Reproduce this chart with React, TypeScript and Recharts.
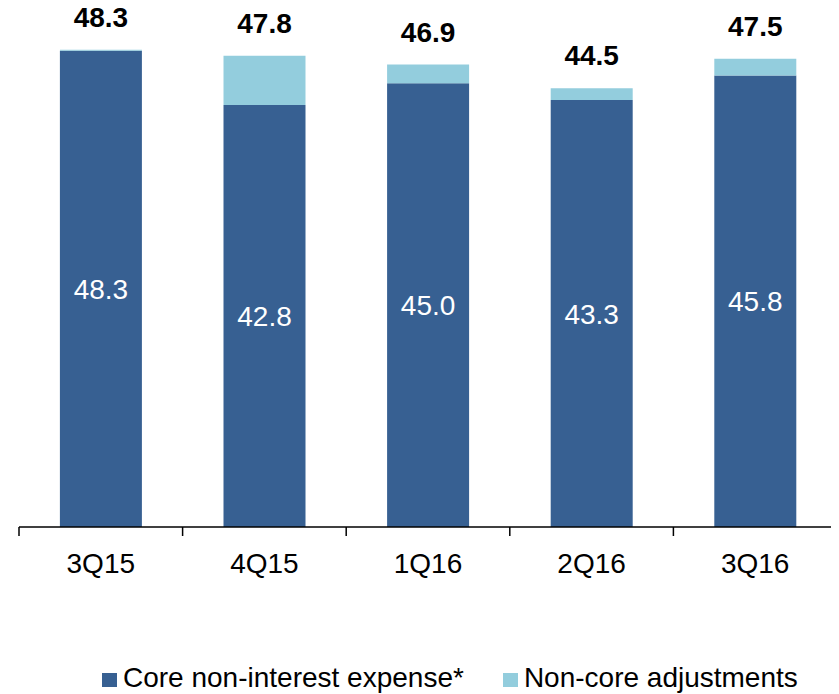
import React from "react"
import { BarChart, Bar, XAxis, YAxis, LabelList } from "recharts"

const quarters = ["3Q15", "4Q15", "1Q16", "2Q16", "3Q16"]
const coreExpense = [48.3, 42.8, 45.0, 43.3, 45.8]
const nonCoreAdjustments = [0.1, 5.0, 1.9, 1.2, 1.7]
const totals = [48.3, 47.8, 46.9, 44.5, 47.5]

const data = quarters.map((q, i) => ({
  quarter: q,
  core: coreExpense[i],
  nonCore: nonCoreAdjustments[i],
  total: totals[i],
}))

const DARK = "#376092"
const LIGHT = "#93CDDD"
const FONT = "Arial, 'Liberation Sans', sans-serif"

function QuarterTick(props: any) {
  const { x, y, payload, index } = props
  const half = payload?.offset ?? props.width / quarters.length / 2
  const last = index === quarters.length - 1
  return (
    <g>
      <line x1={x - half} x2={x - half} y1={y} y2={y + 9} stroke="#000" strokeWidth={1.5} />
      {last && <line x1={x + half} x2={x + half} y1={y} y2={y + 9} stroke="#000" strokeWidth={1.5} />}
      <text x={x} y={y + 46} textAnchor="middle" fontSize={28} fontFamily={FONT} fill="#000">
        {payload.value}
      </text>
    </g>
  )
}

function TotalLabel(props: any) {
  const { x, y, width, value } = props
  return (
    <text x={x + width / 2} y={y - 23} textAnchor="middle" fontSize={28} fontWeight="bold" fontFamily={FONT} fill="#000">
      {Number(value).toFixed(1)}
    </text>
  )
}

function CoreLabel(props: any) {
  const { x, y, width, height, value } = props
  return (
    <text x={x + width / 2} y={y + height / 2 + 10} textAnchor="middle" fontSize={28} fontFamily={FONT} fill="#fff">
      {Number(value).toFixed(1)}
    </text>
  )
}

function LegendItem({ color, label }: { color: string; label: string }) {
  return (
    <div style={{ display: "flex", alignItems: "center" }}>
      <span style={{ width: 15, height: 14, background: color, marginRight: 6, position: "relative", top: 2 }} />
      <span>{label}</span>
    </div>
  )
}

export default function App() {
  return (
    <div style={{ position: "relative", margin: "-8px 0 0 -8px", width: 839, height: 694, overflow: "hidden", background: "#fff" }}>
      <BarChart
        width={839}
        height={694}
        data={data}
        margin={{ top: 34, right: 2, left: 19, bottom: 107 }}
        barCategoryGap="25%"
      >
        <YAxis hide domain={[0, 50]} />
        <XAxis
          dataKey="quarter"
          height={60}
          tickSize={0}
          tickMargin={0}
          axisLine={{ stroke: "#000", strokeWidth: 1.5 }}
          tick={<QuarterTick />}
          interval={0}
        />
        <Bar dataKey="core" stackId="a" fill={DARK} isAnimationActive={false}>
          <LabelList dataKey="core" content={<CoreLabel />} />
        </Bar>
        <Bar dataKey="nonCore" stackId="a" fill={LIGHT} isAnimationActive={false}>
          <LabelList dataKey="total" content={<TotalLabel />} />
        </Bar>
      </BarChart>
      <div
        style={{
          position: "absolute",
          left: 102,
          top: 662,
          display: "flex",
          gap: 39,
          fontFamily: FONT,
          fontSize: 28,
          lineHeight: "32px",
          color: "#000",
        }}
      >
        <LegendItem color={DARK} label="Core non-interest expense*" />
        <LegendItem color={LIGHT} label="Non-core adjustments" />
      </div>
    </div>
  )
}
